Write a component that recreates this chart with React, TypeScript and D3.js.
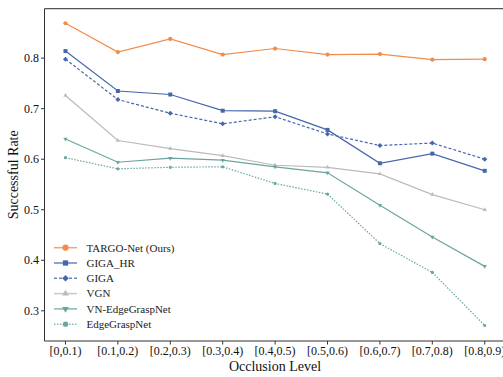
import React, { useEffect, useRef } from 'react';
import * as d3 from 'd3';

// occlusion bins on the x axis
const levels = ['[0,0.1)', '[0.1,0.2)', '[0.2,0.3)', '[0.3,0.4)', '[0.4,0.5)', '[0.5,0.6)', '[0.6,0.7)', '[0.7,0.8)', '[0.8,0.9)'];
const yTicks = [0.3, 0.4, 0.5, 0.6, 0.7, 0.8];

// success rates
const targo = [0.869, 0.812, 0.838, 0.807, 0.819, 0.807, 0.808, 0.797, 0.798];
const gigaHr = [0.814, 0.735, 0.728, 0.696, 0.695, 0.658, 0.592, 0.611, 0.577];
const giga = [0.798, 0.718, 0.691, 0.670, 0.684, 0.650, 0.627, 0.632, 0.600];
const vgn = [0.726, 0.637, 0.621, 0.607, 0.588, 0.584, 0.571, 0.530, 0.500];
const vnEdge = [0.640, 0.594, 0.602, 0.598, 0.585, 0.573, 0.509, 0.446, 0.388];
const edge = [0.603, 0.581, 0.584, 0.585, 0.552, 0.531, 0.433, 0.376, 0.271];

const seriesNames = ['TARGO-Net (Ours)', 'GIGA_HR', 'GIGA', 'VGN', 'VN-EdgeGraspNet', 'EdgeGraspNet'];
const seriesValues = [targo, gigaHr, giga, vgn, vnEdge, edge];

const series = [
  { color: '#f28c4b', dash: null, symbol: d3.symbolCircle, size: 14, lsize: 30 },
  { color: '#4666ae', dash: null, symbol: d3.symbolSquare, size: 16, lsize: 28 },
  { color: '#4666ae', dash: '3,2', symbol: d3.symbolDiamond2, size: 16, lsize: 28 },
  { color: '#bbbbbb', dash: null, symbol: d3.symbolTriangle, size: 8, lsize: 20 },
  { color: '#6aa5a0', dash: null, symbol: d3.symbolTriangle, size: 8, lsize: 20, down: true },
  { color: '#6aa5a0', dash: '1.5,1.5', symbol: d3.symbolCircle, size: 8, lsize: 22 },
];

const FONT = 'Liberation Serif, Times New Roman, DejaVu Serif, serif';

export default function App() {
  const ref = useRef<SVGSVGElement>(null);

  useEffect(() => {
    const width = 503;
    const left = 44.5, top = 8.6, bottom = 341;
    const svg = d3.select(ref.current);
    svg.selectAll('*').remove();

    const x = d3.scalePoint<string>().domain(levels).range([left, 505.7]).padding(0.4);
    const y = d3.scaleLinear().domain([0.2403, 0.898]).range([bottom, top]);

    const g = svg.append('g');

    // lines + markers
    seriesValues.forEach((vals, i) => {
      const s = series[i];
      const line = d3
        .line<number>()
        .x((d, j) => x(levels[j]) as number)
        .y((d) => y(d));
      g.append('path')
        .datum(vals)
        .attr('d', line)
        .attr('fill', 'none')
        .attr('stroke', s.color)
        .attr('stroke-width', 1.2)
        .attr('stroke-dasharray', s.dash);
      g.selectAll('.m' + i)
        .data(vals)
        .enter()
        .append('path')
        .attr('d', d3.symbol().type(s.symbol).size(s.size)())
        .attr('transform', (d, j) => 'translate(' + x(levels[j]) + ',' + y(d) + ')' + (s.down ? ' rotate(180)' : ''))
        .attr('fill', s.color);
    });

    // spines
    svg.append('line').attr('x1', left).attr('x2', left).attr('y1', top).attr('y2', bottom).attr('stroke', '#333').attr('stroke-width', 1);
    svg.append('line').attr('x1', left).attr('x2', width).attr('y1', bottom).attr('y2', bottom).attr('stroke', '#333').attr('stroke-width', 1);
    svg.append('line').attr('x1', left).attr('x2', width).attr('y1', top).attr('y2', top).attr('stroke', '#555').attr('stroke-width', 1.3);

    // y axis ticks
    const yt = svg.append('g').selectAll('g').data(yTicks).enter().append('g');
    yt.append('line').attr('x1', left - 3.5).attr('x2', left).attr('y1', (d) => y(d)).attr('y2', (d) => y(d)).attr('stroke', '#333');
    yt.append('text')
      .attr('x', left - 5.5)
      .attr('y', (d) => y(d) + 4)
      .attr('text-anchor', 'end')
      .style('font-family', FONT)
      .attr('font-size', 12)
      .attr('fill', '#111')
      .text((d) => d.toFixed(1));

    // x axis ticks
    const xt = svg.append('g').selectAll('g').data(levels).enter().append('g');
    xt.append('line').attr('x1', (d) => x(d)).attr('x2', (d) => x(d)).attr('y1', bottom).attr('y2', bottom + 3.5).attr('stroke', '#333');
    xt.append('text')
      .attr('x', (d) => x(d))
      .attr('y', bottom + 14)
      .attr('text-anchor', 'middle')
      .style('font-family', FONT)
      .attr('font-size', 12)
      .attr('fill', '#111')
      .text((d) => d);

    // axis titles
    svg.append('text')
      .attr('x', 275)
      .attr('y', 371)
      .attr('text-anchor', 'middle')
      .style('font-family', FONT)
      .attr('font-size', 14)
      .attr('fill', '#111')
      .text('Occlusion Level');
    svg.append('text')
      .attr('transform', 'translate(18,' + (top + bottom) / 2 + ') rotate(-90)')
      .attr('text-anchor', 'middle')
      .style('font-family', FONT)
      .attr('font-size', 14)
      .attr('fill', '#111')
      .text('Successful Rate');

    // legend
    const lg = svg.append('g').selectAll('g').data(seriesNames).enter().append('g')
      .attr('transform', (d, i) => 'translate(0,' + (247.7 + i * 15.3) + ')');
    lg.append('line')
      .attr('x1', 54).attr('x2', 77).attr('y1', 0).attr('y2', 0)
      .attr('stroke', (d, i) => series[i].color)
      .attr('stroke-opacity', 0.8)
      .attr('stroke-width', 1.5)
      .attr('stroke-dasharray', (d, i) => series[i].dash);
    lg.append('path')
      .attr('d', (d, i) => d3.symbol().type(series[i].symbol).size(series[i].lsize)())
      .attr('transform', (d, i) => 'translate(65.5,0)' + (series[i].down ? ' rotate(180)' : ''))
      .attr('fill', (d, i) => series[i].color);
    lg.append('text')
      .attr('x', 86.5)
      .attr('y', 3.8)
      .style('font-family', FONT)
      .attr('font-size', 11)
      .attr('fill', '#222')
      .text((d) => d);
  }, []);

  return (
    <svg
      ref={ref}
      width={503}
      height={377}
      style={{ position: 'absolute', left: 0, top: 0, background: '#fff' }}
    />
  );
}
